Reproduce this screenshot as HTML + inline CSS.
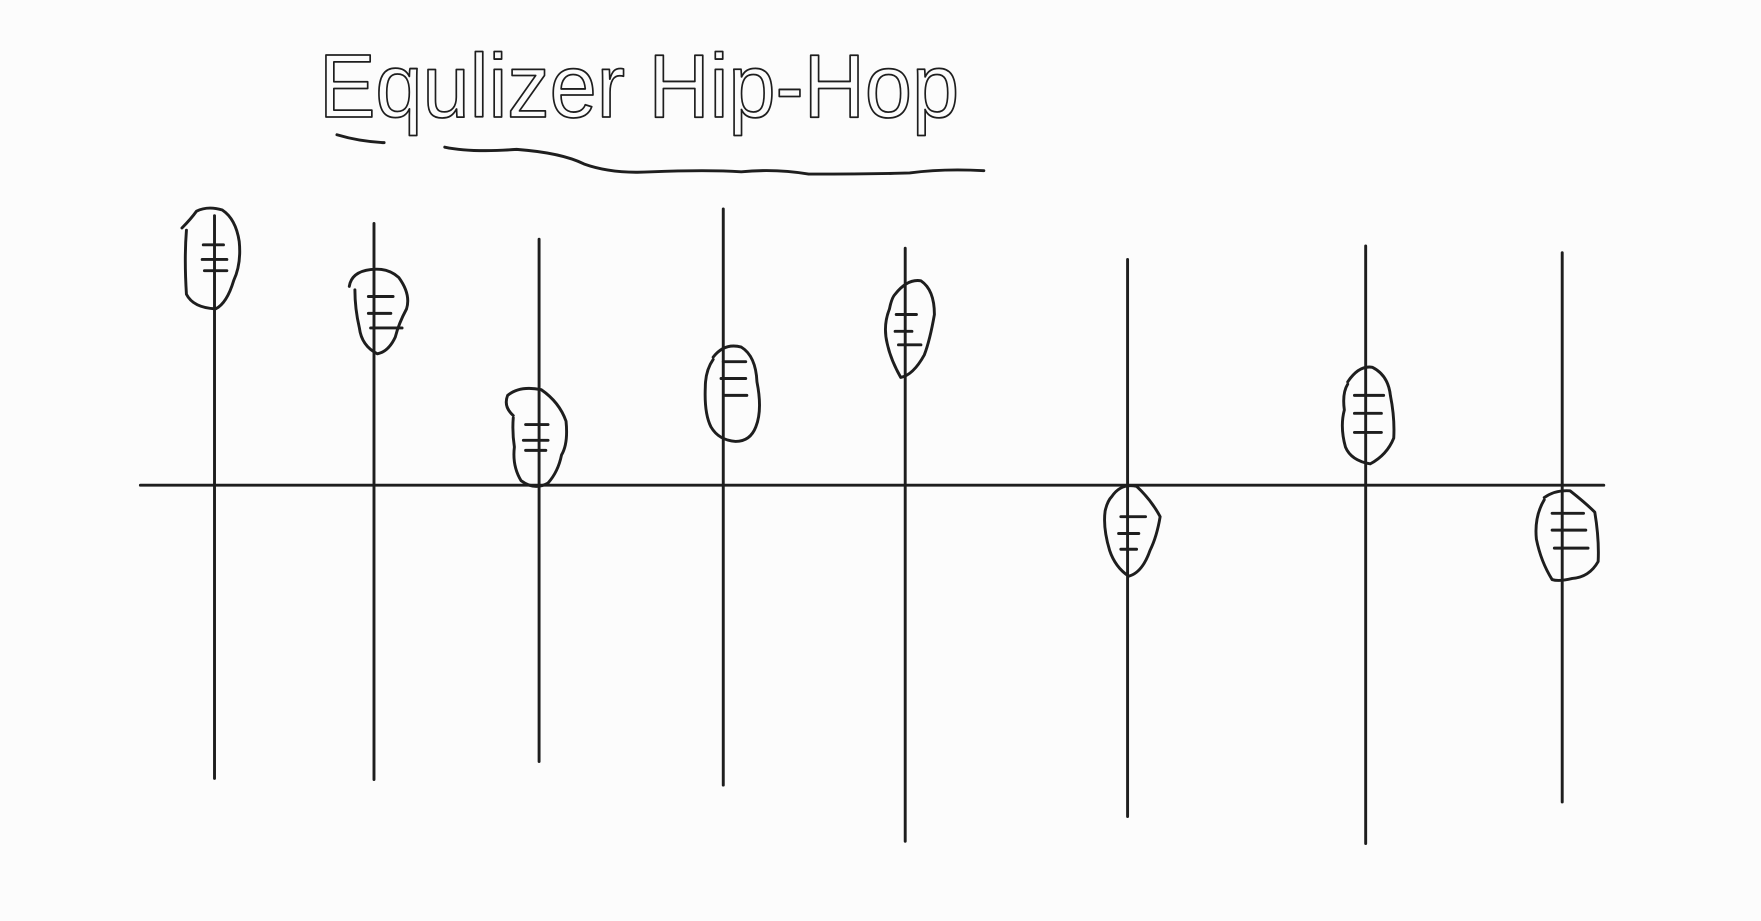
<!DOCTYPE html>
<html><head><meta charset="utf-8"><style>
html,body{margin:0;padding:0;background:#fcfcfc;}
svg{display:block;}
</style></head><body>
<svg width="1761" height="921" viewBox="0 0 1568 820" preserveAspectRatio="none" xmlns="http://www.w3.org/2000/svg">
<rect width="1568" height="820" fill="#fcfcfc"/>
<g fill="none" stroke="#1e1e1e" stroke-width="2.6" stroke-linecap="round" stroke-linejoin="round">
<text x="284" y="104" font-family="Liberation Sans, sans-serif" font-size="80" fill="none" stroke="#1e1e1e" stroke-width="1.6" textLength="570" lengthAdjust="spacingAndGlyphs">Equlizer Hip-Hop</text>
<path d="M300 120 Q320 126 342 127"/>
<path d="M396 131 Q420 136 460 133 Q500 136 520 146 Q545 155 580 153 Q630 151 660 153 Q690 150 720 155 Q780 155 810 154 Q840 150 876 152"/>
<line x1="125" y1="432" x2="1428" y2="432"/>
<line x1="191" y1="192" x2="191" y2="693"/>
<line x1="333" y1="199" x2="333" y2="694"/>
<line x1="480" y1="213" x2="480" y2="678"/>
<line x1="644" y1="186" x2="644" y2="699"/>
<line x1="806" y1="221" x2="806" y2="749"/>
<line x1="1004" y1="231" x2="1004" y2="727"/>
<line x1="1216" y1="219" x2="1216" y2="751"/>
<line x1="1391" y1="225" x2="1391" y2="714"/>
<g>
<path d="M162 203 Q170 195 175 188 Q185 183 198 187 Q210 195 213 215 Q215 235 208 250 Q202 270 192 275 Q172 274 166 262 Q164 230 166 205"/>
<path d="M181 218h18M180 231h22M182 241h20"/>
<path d="M311 255 Q313 242 330 240 Q345 238 355 247 Q366 262 362 275 Q355 288 352 300 Q346 313 336 315 Q322 308 320 292 Q316 275 316 258"/>
<path d="M328 264h22M328 279h20M330 292h28"/>
<path d="M457 370 Q448 362 452 352 Q463 343 482 347 Q498 358 504 375 Q506 395 500 405 Q497 420 488 430 Q476 437 464 428 Q456 415 458 398 Q456 385 457 372"/>
<path d="M468 378h20M466 392h22M468 401h18"/>
<path d="M635 318 Q645 305 660 309 Q673 317 674 340 Q679 365 673 380 Q668 393 655 393 Q640 392 633 380 Q627 368 628 345 Q628 330 635 320"/>
<path d="M644 322h20M642 337h22M645 352h20"/>
<path d="M797 262 Q808 248 820 250 Q832 258 832 280 Q828 303 823 316 Q813 334 802 336 Q793 320 790 306 Q786 290 792 275 Q794 265 797 262"/>
<path d="M798 280h18M797 295h15M800 307h20"/>
<path d="M990 442 Q998 430 1012 433 Q1025 445 1033 460 Q1030 478 1024 490 Q1017 510 1005 513 Q993 505 988 490 Q982 470 984 455 Q986 446 990 442"/>
<path d="M998 460h22M996 475h18M998 489h14"/>
<path d="M1200 340 Q1210 325 1222 327 Q1236 334 1238 352 Q1242 372 1241 390 Q1235 405 1220 413 Q1203 410 1198 398 Q1193 380 1197 365 Q1195 350 1200 342"/>
<path d="M1206 352h26M1206 368h24M1206 385h24"/>
<path d="M1375 443 Q1385 436 1398 437 Q1412 448 1420 456 Q1424 480 1423 500 Q1415 514 1400 515 Q1388 518 1382 516 Q1372 500 1368 480 Q1366 460 1375 445"/>
<path d="M1382 457h28M1382 472h30M1384 488h30"/>
</g>
</g>
</svg>
</body></html>
